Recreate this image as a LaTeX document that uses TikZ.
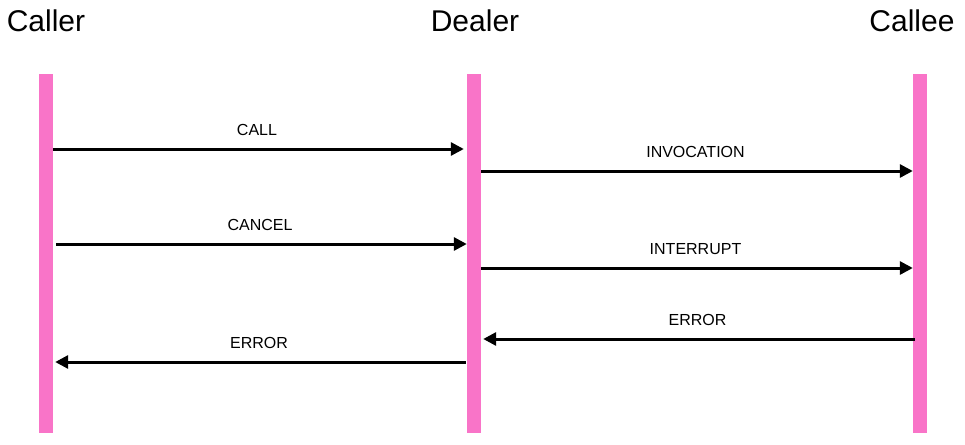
\documentclass[tikz,border=0pt]{standalone}
\usepackage{fontspec}
\setmainfont{Liberation Sans}
\usetikzlibrary{arrows.meta,positioning,calc}
\definecolor{lanepink}{HTML}{F974C8}

\begin{document}
\begin{tikzpicture}[
    x=1pt, y=-1pt,
    lane/.style={rectangle, draw=none, fill=lanepink, minimum width=14pt, minimum height=359pt, inner sep=0pt},
    role/.style={anchor=base, inner sep=0pt, font=\fontsize{30}{36}\selectfont},
    msg/.style={draw, line width=3pt, -{Triangle[length=13pt, width=13pt]}},
    lbl/.style={midway, anchor=base, yshift=13.5pt, xshift=-1.5pt, inner sep=0pt, font=\fontsize{16}{19}\selectfont}
]
\useasboundingbox (0,0) rectangle (965,444);

% Nodes
\node [role] (callerlbl) at (46,32) {Caller};
\node [role] (dealerlbl) at (475,32) {Dealer};
\node [role] (calleelbl) at (912,32) {Callee};

\node [lane] (caller) at (46,253.5) {};
\node [lane] (dealer) at (474,253.5) {};
\node [lane] (callee) at (920,253.5) {};

% Connections - caller to dealer to callee
\draw [msg] (caller.east |- 0,149) -- ($(dealer.west |- 0,149)+(-3,0)$) node [lbl] {CALL};
\draw [msg] (dealer.east |- 0,171) -- (callee.west |- 0,171) node [lbl] {INVOCATION};

\draw [msg] ($(caller.east |- 0,244)+(3,0)$) -- (dealer.west |- 0,244) node [lbl] {CANCEL};
\draw [msg] (dealer.east |- 0,268) -- (callee.west |- 0,268) node [lbl] {INTERRUPT};

% Errors back
\draw [msg] ($(callee.west |- 0,339)+(2,0)$) -- ($(dealer.east |- 0,339)+(2,0)$) node [lbl] {ERROR};
\draw [msg] ($(dealer.west |- 0,362)+(-1,0)$) -- ($(caller.east |- 0,362)+(2,0)$) node [lbl] {ERROR};

\end{tikzpicture}
\end{document}
